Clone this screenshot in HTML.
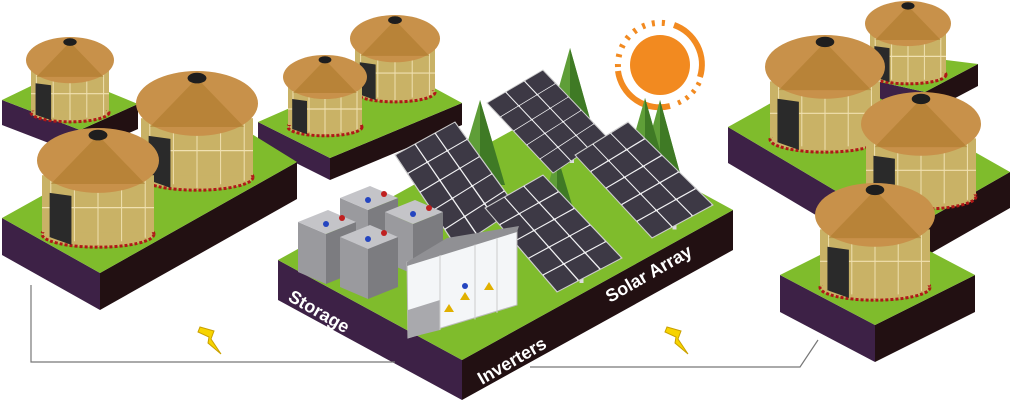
<!DOCTYPE html>
<html><head><meta charset="utf-8"><style>
html,body{margin:0;padding:0;background:#fff;width:1024px;height:401px;overflow:hidden}
svg{display:block}
text{font-family:"Liberation Sans",sans-serif;font-weight:bold;fill:#fff;font-size:18px}
</style></head><body>
<svg id="s" width="1024" height="401" viewBox="0 0 1024 401" xmlns="http://www.w3.org/2000/svg">
<g id="g"></g>
<polyline points="31,285 31,362 395,362" fill="none" stroke="#777" stroke-width="1.2"/>
<polyline points="530,367 800,367 818,340" fill="none" stroke="#777" stroke-width="1.2"/>
<polygon points="200,327 214,331 211,339 221,354 208,343 209,337 198,332" fill="#f7d400" stroke="#c9a000" stroke-width="1"/>
<polygon points="667,327 681,331 678,339 688,354 675,343 676,337 665,332" fill="#f7d400" stroke="#c9a000" stroke-width="1"/>
<text transform="translate(287,300) rotate(30)">Storage</text>
<text transform="translate(482,385) rotate(-30)">Inverters</text>
<text transform="translate(610,303) rotate(-30)">Solar Array</text>
</svg>
<script>
var NS="http://www.w3.org/2000/svg",G=document.getElementById("g");
function el(t,a){var e=document.createElementNS(NS,t);for(var k in a)e.setAttribute(k,a[k]);G.appendChild(e);return e;}
function P(a){return a.map(function(p){return p[0]+","+p[1]}).join(" ");}
function prism(L,B,R,F,t){
 el("polygon",{points:P([L,F,[F[0],F[1]+t],[L[0],L[1]+t]]),fill:"#3d2146"});
 el("polygon",{points:P([F,R,[R[0],R[1]+t],[F[0],F[1]+t]]),fill:"#221012"});
 el("polygon",{points:P([L,B,R,F]),fill:"#7fbc2c"});
}
function hut(cx,top,r){
 var bt=top+0.8*r,bb=top+1.8*r;
 el("ellipse",{cx:cx,cy:bb,rx:r-3,ry:r*0.22,fill:"#c9b266",stroke:"#b01818","stroke-width":3,"stroke-dasharray":"3 2"});
 el("rect",{x:cx-r+3,y:bt,width:2*r-6,height:bb-bt-2,fill:"#c9b266"});
 el("line",{x1:cx-r+3,y1:top+1.35*r,x2:cx+r-3,y2:top+1.35*r,stroke:"#f0e0b0","stroke-width":1.2});
 for(var i=-2;i<=2;i++)el("line",{x1:cx+i*r*0.4,y1:bt,x2:cx+i*r*0.4,y2:bb+r*0.18*(1-Math.abs(i)/3),stroke:"#f0e0b0","stroke-width":1});
 el("polygon",{points:P([[cx-r*0.82,top+1.1*r],[cx-r*0.45,top+1.15*r],[cx-r*0.45,top+1.98*r],[cx-r*0.82,top+1.85*r]]),fill:"#2a2a2a"});
 el("ellipse",{cx:cx,cy:top+0.55*r,rx:r+2,ry:r*0.55,fill:"#c8914a"});
 el("polygon",{points:P([[cx,top+0.12*r],[cx-r*0.8,top+0.95*r],[cx+r*0.8,top+0.95*r]]),fill:"#a87526",opacity:0.5});
 el("ellipse",{cx:cx,cy:top+0.12*r,rx:r*0.16,ry:r*0.09,fill:"#1e1e1e"});
}
function lerp(a,b,t){return [a[0]+(b[0]-a[0])*t,a[1]+(b[1]-a[1])*t];}
function bil(p0,p1,p2,p3,u,v){return lerp(lerp(p0,p1,u),lerp(p3,p2,u),v);}
function panel(p0,p1,p2,p3){
 var m=lerp(p3,p2,0.5);
 el("line",{x1:m[0]-8,y1:m[1]-30,x2:m[0]-8,y2:m[1]+8,stroke:"#ddd","stroke-width":4});
 el("polygon",{points:P([p0,p1,p2,p3]),fill:"#f2f2f4",stroke:"#ccc","stroke-width":1});
 for(var i=0;i<3;i++)for(var j=0;j<5;j++){
  var u0=i/3+0.02,u1=(i+1)/3-0.02,v0=j/5+0.012,v1=(j+1)/5-0.012;
  el("polygon",{points:P([bil(p0,p1,p2,p3,u0,v0),bil(p0,p1,p2,p3,u1,v0),bil(p0,p1,p2,p3,u1,v1),bil(p0,p1,p2,p3,u0,v1)]),fill:"#3d3945",stroke:"#3d3945","stroke-width":1.5,"stroke-linejoin":"round"});
 }
}
function tree(x,y,w,h){
 el("polygon",{points:P([[x,y],[x-w/2,y+h],[x+w/2,y+h]]),fill:"#5f9e38"});
 el("polygon",{points:P([[x,y],[x,y+h],[x+w/2,y+h]]),fill:"#3f7a25"});
}
function box(x,y){
 el("polygon",{points:P([[x,y],[x+28,y+12],[x+28,y+62],[x,y+50]]),fill:"#9a9a9e"});
 el("polygon",{points:P([[x+28,y+12],[x+58,y],[x+58,y+50],[x+28,y+62]]),fill:"#7c7c80"});
 el("polygon",{points:P([[x,y],[x+30,y-12],[x+58,y],[x+28,y+12]]),fill:"#c4c4c8"});
 el("circle",{cx:x+28,cy:y+2,r:3,fill:"#2445c0"});
 el("circle",{cx:x+44,cy:y-4,r:3,fill:"#c02020"});
}
prism([2,100],[60,72],[138,104],[80,130],25); hut(70,37,42);
prism([258,122],[390,64],[462,103],[330,158],22); hut(395,15,43); hut(325,55,40);
prism([880,82],[930,58],[978,64],[925,92],22); hut(908,1,41);
prism([728,127],[830,70],[1010,172],[905,232],36); hut(825,35,58); hut(921,92,58);
prism([2,218],[205,105],[297,162],[100,273],37); hut(197,71,59); hut(98,128,59);
prism([278,260],[549,110],[733,210],[462,360],40);
var sx=660,sy=65;
el("circle",{cx:sx,cy:sy,r:30,fill:"#f28a20"});
el("path",{d:"M "+(sx-42)+" "+(sy+2)+" A 42 42 0 0 1 "+(sx+10)+" "+(sy-41),fill:"none",stroke:"#f28a20","stroke-width":6,"stroke-dasharray":"3 7"});
el("path",{d:"M "+(sx+14)+" "+(sy-40)+" A 42 42 0 0 1 "+(sx+40)+" "+(sy+12),fill:"none",stroke:"#f28a20","stroke-width":6});
el("path",{d:"M "+(sx-42)+" "+(sy+6)+" A 42 42 0 0 0 "+(sx+10)+" "+(sy+41),fill:"none",stroke:"#f28a20","stroke-width":6});
el("path",{d:"M "+(sx+18)+" "+(sy+38)+" A 42 42 0 0 0 "+(sx+40)+" "+(sy+16),fill:"none",stroke:"#f28a20","stroke-width":5,"stroke-dasharray":"3 6"});
tree(570,48,62,110); tree(480,100,50,85); tree(660,100,52,95); tree(557,155,48,80); tree(645,98,40,70);
panel([487,103],[543,70],[607,137],[553,173]);
panel([395,155],[455,122],[517,208],[457,248]);
panel([575,155],[628,122],[713,205],[652,238]);
panel([485,208],[543,175],[622,258],[557,292]);
box(340,198); box(385,212); box(298,222); box(340,237);
el("polygon",{points:P([[407,262],[517,228],[517,305],[408,338]]),fill:"#f4f6f8",stroke:"#bbb","stroke-width":1});
el("polygon",{points:P([[407,262],[447,238],[519,226],[517,232],[407,266]]),fill:"#909094"});
el("polygon",{points:P([[408,310],[440,300],[440,330],[408,338]]),fill:"#a9a9ad"});
[440,475,497].forEach(function(x){el("line",{x1:x,y1:255-(x-440)*0.3,x2:x,y2:330-(x-440)*0.3,stroke:"#ccc"});});
el("circle",{cx:465,cy:286,r:3,fill:"#2445c0"});
el("polygon",{points:"460,300 465,292 470,300",fill:"#e0b000"});
el("polygon",{points:"484,290 489,282 494,290",fill:"#e0b000"});
el("polygon",{points:"444,312 449,304 454,312",fill:"#e0b000"});
prism([780,275],[880,225],[975,275],[875,325],37); hut(875,183,58);
</script>
</body></html>
